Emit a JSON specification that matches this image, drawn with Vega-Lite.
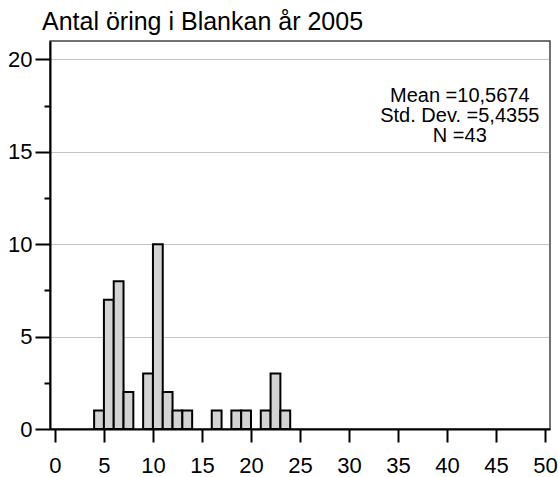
{
  "$schema": "https://vega.github.io/schema/vega-lite/v6.json",
  "autosize": "none",
  "width": 500,
  "height": 388,
  "padding": {"left": 50, "top": 41, "right": 8, "bottom": 48},
  "background": "white",
  "title": {
    "text": "Antal öring i Blankan år 2005",
    "anchor": "start",
    "frame": "group",
    "dx": -8,
    "offset": 6,
    "font": "Liberation Sans",
    "fontSize": 25,
    "fontWeight": "normal",
    "color": "black"
  },
  "config": {
    "view": {"stroke": "#444", "strokeWidth": 1.5},
    "axis": {
      "labelFont": "Liberation Sans",
      "labelFontSize": 22,
      "labelColor": "black",
      "domainColor": "black",
      "domainWidth": 2,
      "tickColor": "black",
      "tickWidth": 2,
      "labelOverlap": false,
      "labelFlush": false,
      "title": null
    }
  },
  "data": {
    "values": [
      {"start": 4, "end": 5, "count": 1},
      {"start": 5, "end": 6, "count": 7},
      {"start": 6, "end": 7, "count": 8},
      {"start": 7, "end": 8, "count": 2},
      {"start": 9, "end": 10, "count": 3},
      {"start": 10, "end": 11, "count": 10},
      {"start": 11, "end": 12, "count": 2},
      {"start": 12, "end": 13, "count": 1},
      {"start": 13, "end": 14, "count": 1},
      {"start": 16, "end": 17, "count": 1},
      {"start": 18, "end": 19, "count": 1},
      {"start": 19, "end": 20, "count": 1},
      {"start": 21, "end": 22, "count": 1},
      {"start": 22, "end": 23, "count": 3},
      {"start": 23, "end": 24, "count": 1}
    ]
  },
  "layer": [
    {
      "mark": {"type": "rect", "fill": "#d3d3d3", "stroke": "black", "strokeWidth": 2},
      "encoding": {
        "x": {
          "field": "start",
          "type": "quantitative",
          "scale": {"domain": [-0.5, 50.5], "nice": false, "zero": false},
          "axis": {
            "values": [0, 2.5, 5, 7.5, 10, 12.5, 15, 17.5, 20, 22.5, 25, 27.5, 30, 32.5, 35, 37.5, 40, 42.5, 45, 47.5, 50],
            "labelExpr": "datum.value % 5 === 0 ? '' + datum.value : ''",
            "tickSize": {"condition": {"test": "datum.value % 5 === 0", "value": 13}, "value": 6},
            "labelPadding": 13,
            "grid": false
          }
        },
        "x2": {"field": "end"},
        "y": {
          "field": "count",
          "type": "quantitative",
          "scale": {"domain": [0, 21], "nice": false},
          "axis": {
            "values": [0, 2.5, 5, 7.5, 10, 12.5, 15, 17.5, 20],
            "labelExpr": "datum.value % 5 === 0 ? '' + datum.value : ''",
            "tickSize": {"condition": {"test": "datum.value % 5 === 0", "value": 15}, "value": 6},
            "labelPadding": 3,
            "grid": true,
            "gridColor": "#888",
            "gridWidth": 1,
            "gridDash": [1, 1],
            "gridOpacity": {"condition": {"test": "datum.value % 5 === 0 && datum.value > 0", "value": 1}, "value": 0}
          }
        },
        "y2": {"datum": 0}
      }
    },
    {
      "data": {"values": [{"stats": "Mean =10,5674\nStd. Dev. =5,4355\nN =43"}]},
      "mark": {
        "type": "text",
        "font": "Liberation Sans",
        "fontSize": 20,
        "align": "center",
        "baseline": "alphabetic",
        "lineBreak": "\n",
        "lineHeight": 20,
        "color": "black"
      },
      "encoding": {
        "x": {"datum": 41.3},
        "y": {"datum": 17.7},
        "text": {"field": "stats"}
      }
    }
  ]
}
